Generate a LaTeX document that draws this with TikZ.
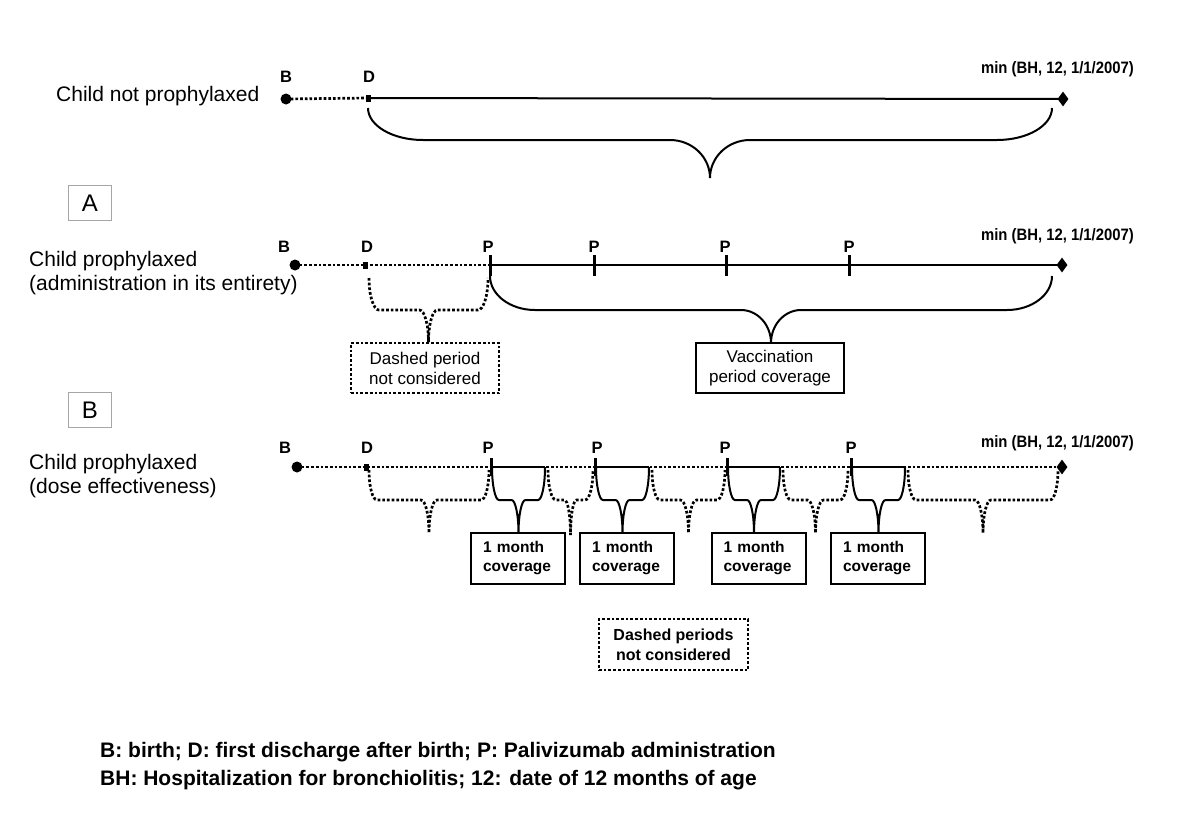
\documentclass[tikz,border=0pt]{standalone}
\usepackage{fontspec}
\setmainfont{Liberation Sans}
\usetikzlibrary{shapes.geometric}
\newcommand{\tlbrace}[8][]{%
  \pgfmathsetmacro{\tlxm}{(#2+#3)/2}%
  \draw[#1] (#2,#4) .. controls (#2,{#4+0.552*(#5-#4)}) and ({#2+0.448*#7},#5) .. ({#2+#7},#5)
    -- ({\tlxm-#8},#5) .. controls ({\tlxm-0.448*#8},#5) and (\tlxm,{#6-0.552*(#6-#5)}) .. (\tlxm,#6)
    .. controls (\tlxm,{#6-0.552*(#6-#5)}) and ({\tlxm+0.448*#8},#5) .. ({\tlxm+#8},#5)
    -- ({#3-#7},#5) .. controls ({#3-0.448*#7},#5) and (#3,{#4+0.552*(#5-#4)}) .. (#3,#4);}
\newcommand{\tlnarrow}[1]{\scalebox{0.9}[1]{#1}}
\begin{document}
\begin{tikzpicture}[x=1pt,y=-1pt,
  axis/.style={line width=2pt},
  dotl/.style={line width=2.7pt, dash pattern=on 2.7pt off 2pt},
  solidl/.style={line width=2pt},
  lab/.style={font=\fontsize{16.5}{18}\bfseries\selectfont, anchor=base, inner sep=0pt},
  minlab/.style={font=\fontsize{16.5}{18}\bfseries\selectfont, anchor=base east, inner sep=0pt},
  rowlab/.style={font=\fontsize{21}{24}\selectfont, anchor=base west, inner sep=0pt},
  footlab/.style={font=\fontsize{21}{24}\bfseries\selectfont, anchor=base west, inner sep=0pt},
  bnode/.style={circle, fill, inner sep=0pt, minimum size=11pt},
  dnode/.style={rectangle, fill, inner sep=0pt, minimum width=5pt, minimum height=7pt},
  enode/.style={diamond, fill, inner sep=0pt, minimum width=11pt, minimum height=15pt},
  pnode/.style={rectangle, fill, inner sep=0pt, minimum width=3pt, minimum height=21pt},
  pnodeb/.style={rectangle, fill, inner sep=0pt, minimum width=3pt, minimum height=18pt},
  lbox/.style={draw=gray!70, line width=1.2pt, minimum width=43pt, minimum height=35pt, inner sep=0pt, font=\fontsize{24}{24}\selectfont},
  tbox/.style={draw, line width=2pt, minimum width=148pt, minimum height=50pt, inner sep=0pt, align=center, font=\fontsize{17}{20}\selectfont},
  dbox/.style={draw, dotl, minimum width=148pt, minimum height=50pt, inner sep=0pt, align=center},
  mbox/.style={draw, line width=2pt, minimum width=94pt, minimum height=51pt, inner xsep=12pt, text width=70pt, align=left, font=\fontsize{15.5}{19}\bfseries\selectfont}
]
\useasboundingbox (0,0) rectangle (1200,831);
\fill[white] (0,0) rectangle (1200,831);

% ---------- Row 1 ----------
\node[rowlab] (t1) at (56,101) {Child not prophylaxed};
\node[bnode] (b1) at (286,99) {};
\node[dnode] (d1) at (368,98) {};
\node[enode] (e1) at (1063,99) {};
\node[lab] (lb1) at (286,82) {B};
\node[lab] (ld1) at (369,82) {D};
\node[minlab] (m1) at (1134,73) {\tlnarrow{min (BH, 12, 1/1/2007)}};
\draw[dotl] (b1.center) -- (d1.center);
\draw[axis] (d1.center) -- (e1.center);
\tlbrace[solidl]{368}{1052}{108}{140}{178}{55}{40}

% ---------- Box A ----------
\node[lbox] (ba) at (90,203) {A};

% ---------- Row 2 ----------
\node[rowlab] (t2a) at (29,266) {Child prophylaxed};
\node[rowlab] (t2b) at (29,290) {(administration in its entirety)};
\node[bnode] (b2) at (295,265) {};
\node[dnode] (d2) at (365,265) {};
\node[pnode] (p21) at (490,265) {};
\node[pnode] (p22) at (594,265) {};
\node[pnode] (p23) at (726,265) {};
\node[pnode] (p24) at (849,265) {};
\node[enode] (e2) at (1062,265) {};
\node[lab] at (284,252) {B};
\node[lab] at (367,252) {D};
\node[lab] at (488,252) {P};
\node[lab] at (594,252) {P};
\node[lab] at (725,252) {P};
\node[lab] at (849,252) {P};
\node[minlab] (m2) at (1134,240) {\tlnarrow{min (BH, 12, 1/1/2007)}};
\draw[dotl] (b2.center) -- (p21.center);
\draw[axis] (p21.center) -- (e2.center);
\tlbrace[dotl]{369}{488}{278}{310}{342}{10}{9}
\tlbrace[solidl]{490}{1052}{276}{310}{343}{45}{30}
\node[dbox, font=\fontsize{17}{20}\selectfont] (n2) at (425,368) {Dashed period\\not considered};
\node[tbox] (v2) at (770,368) {Vaccination\\period coverage};

% ---------- Box B ----------
\node[lbox] (bb) at (90,410) {B};

% ---------- Row 3 ----------
\node[rowlab] (t3a) at (29,469) {Child prophylaxed};
\node[rowlab] (t3b) at (29,493) {(dose effectiveness)};
\node[bnode] (b3) at (297,467) {};
\node[dnode] (d3) at (366,467) {};
\node[enode] (e3) at (1062,467) {};
\coordinate (p31) at (491,467);
\coordinate (p32) at (595,467);
\coordinate (p33) at (727,467);
\coordinate (p34) at (851,467);
\coordinate (s31) at (545,467);
\coordinate (s32) at (649,467);
\coordinate (s33) at (780,467);
\coordinate (s34) at (905,467);
\node[lab] at (285,453) {B};
\node[lab] at (367,453) {D};
\node[lab] at (488,453) {P};
\node[lab] at (597,453) {P};
\node[lab] at (725,453) {P};
\node[lab] at (851,453) {P};
\node[minlab] (m3) at (1134,447) {\tlnarrow{min (BH, 12, 1/1/2007)}};
\draw[dotl] (b3.center) -- (e3.center);
\draw[axis] (p31) -- (s31);
\draw[axis] (p32) -- (s32);
\draw[axis] (p33) -- (s33);
\draw[axis] (p34) -- (s34);
\node[pnodeb] at (p31) {};
\node[pnodeb] at (p32) {};
\node[pnodeb] at (p33) {};
\node[pnodeb] at (p34) {};
% dotted braces
\tlbrace[dotl]{369}{489}{470}{500}{533}{8}{8}
\tlbrace[dotl]{548}{593}{470}{500}{535}{8}{6}
\tlbrace[dotl]{652}{725}{470}{500}{533}{8}{8}
\tlbrace[dotl]{783}{848}{470}{500}{533}{8}{8}
\tlbrace[dotl]{908}{1058}{470}{500}{533}{8}{8}
% solid brackets
\tlbrace[solidl]{492}{545}{467}{500}{533}{7}{7}
\tlbrace[solidl]{596}{649}{467}{500}{533}{7}{7}
\tlbrace[solidl]{728}{780}{467}{500}{533}{7}{7}
\tlbrace[solidl]{852}{905}{467}{500}{533}{7}{7}
\node[mbox] (c1) at (518,558.5) {1 month\\coverage};
\node[mbox] (c2) at (627,558.5) {1 month\\coverage};
\node[mbox] (c3) at (758.5,558.5) {1 month\\coverage};
\node[mbox] (c4) at (878,558.5) {1 month\\coverage};
\node[dbox, font=\fontsize{16}{20}\bfseries\selectfont, minimum width=149pt, minimum height=51pt] (n3) at (673.5,644.5) {Dashed periods\\not considered};

% ---------- Footnotes ----------
\node[footlab] (f1) at (100,757) {B: birth; D: first discharge after birth; P: Palivizumab administration};
\node[footlab] (f2) at (100,785) {BH: Hospitalization for bronchiolitis; 12: date of 12 months of age};
\end{tikzpicture}
\end{document}
